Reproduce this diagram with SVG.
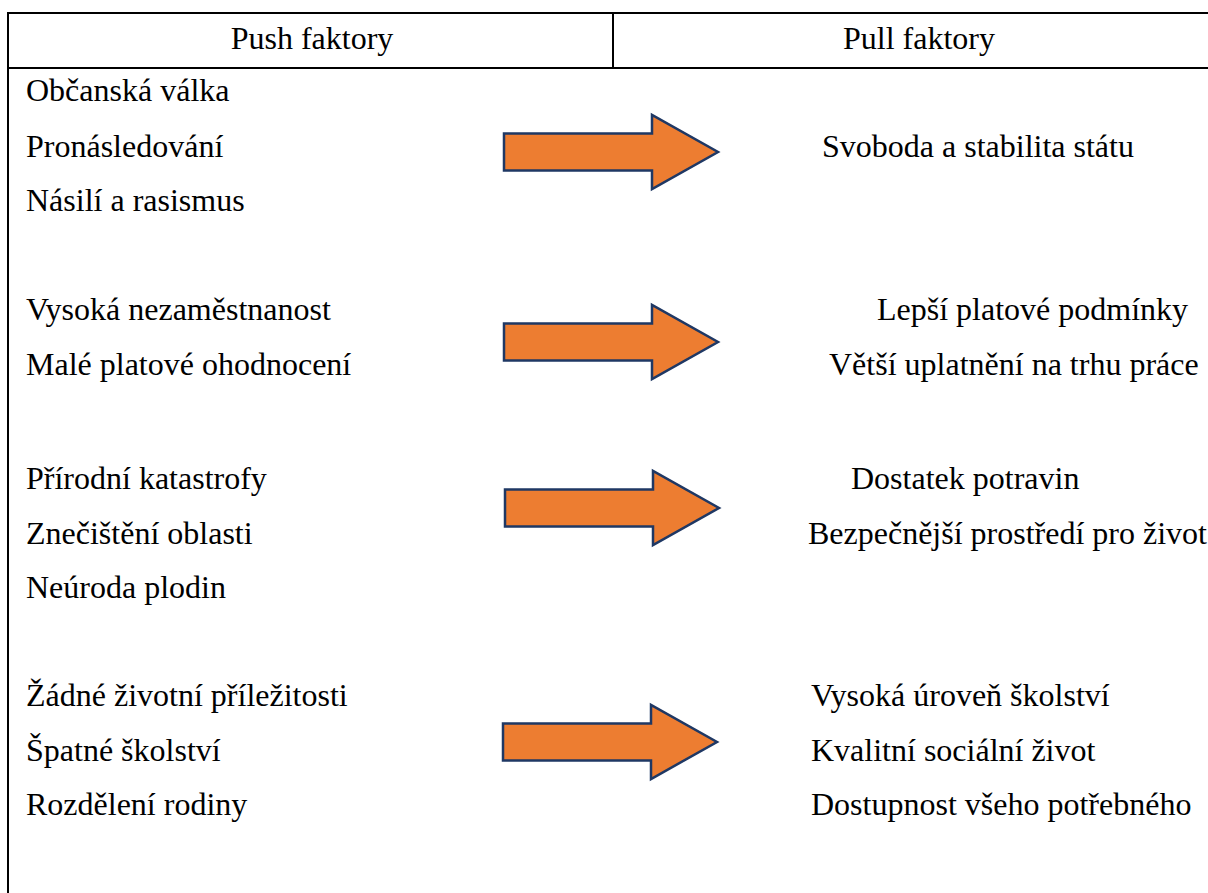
<svg xmlns="http://www.w3.org/2000/svg" width="1208" height="893" viewBox="0 0 1208 893">
<style>
.t{font-family:'Liberation Serif','Times New Roman','DejaVu Serif',serif;font-size:32px;fill:#000}
.c{text-anchor:middle}
.grid{stroke:#000;stroke-width:2;fill:none}
.arrow{fill:#ED7D31;stroke:#1F3864;stroke-width:2.5;stroke-linejoin:miter}
</style>
<defs>
<path id="arr" d="M0,-18.5 H148 V-37 L214,0 L148,37 V18.5 H0 Z"/>
</defs>
<rect width="1208" height="893" fill="#fff"/>
<g id="table">
<line class="grid" x1="7" y1="13" x2="1208" y2="13"/>
<line class="grid" x1="7" y1="68" x2="1208" y2="68"/>
<line class="grid" x1="8" y1="12" x2="8" y2="893"/>
<line class="grid" x1="613" y1="13" x2="613" y2="68"/>
</g>
<g class="t" font-family="Liberation Serif, serif" font-size="32">
<g id="header-push"><text class="c" x="312" y="49">Push faktory</text></g>
<g id="header-pull"><text class="c" x="919" y="49">Pull faktory</text></g>
<g id="push-1">
<text x="26" y="101">Občanská válka</text>
<text x="26" y="157">Pronásledování</text>
<text x="26" y="211">Násilí a rasismus</text>
</g>
<g id="push-2">
<text x="26" y="320">Vysoká nezaměstnanost</text>
<text x="26" y="375">Malé platové ohodnocení</text>
</g>
<g id="push-3">
<text x="26" y="489">Přírodní katastrofy</text>
<text x="26" y="544">Znečištění oblasti</text>
<text x="26" y="598">Neúroda plodin</text>
</g>
<g id="push-4">
<text x="26" y="706">Žádné životní příležitosti</text>
<text x="26" y="761">Špatné školství</text>
<text x="26" y="815">Rozdělení rodiny</text>
</g>
<g id="pull-1">
<text x="822" y="157">Svoboda a stabilita státu</text>
</g>
<g id="pull-2">
<text x="877" y="320">Lepší platové podmínky</text>
<text x="829" y="375">Větší uplatnění na trhu práce</text>
</g>
<g id="pull-3">
<text x="851" y="489">Dostatek potravin</text>
<text x="808" y="544">Bezpečnější prostředí pro život</text>
</g>
<g id="pull-4">
<text x="811" y="706">Vysoká úroveň školství</text>
<text x="811" y="761">Kvalitní sociální život</text>
<text x="811" y="815">Dostupnost všeho potřebného</text>
</g>
</g>
<g id="connectors">
<use href="#arr" class="arrow" transform="translate(504,152)"/>
<use href="#arr" class="arrow" transform="translate(504,342)"/>
<use href="#arr" class="arrow" transform="translate(505,508)"/>
<use href="#arr" class="arrow" transform="translate(503,742)"/>
</g>
</svg>
